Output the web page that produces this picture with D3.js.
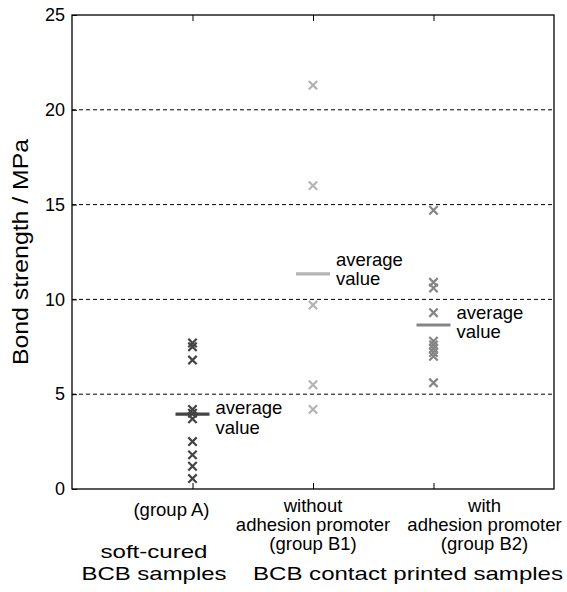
<!DOCTYPE html>
<html><head><meta charset="utf-8">
<script src="https://cdn.jsdelivr.net/npm/d3@7"></script>
<style>body{margin:0;background:#fff}svg{display:block}text{font-family:"Liberation Sans",Arial,sans-serif;fill:#000}</style>
</head><body><div id="chart"></div>
<script>
const groups = ["A", "B1", "B2"];
const groupA = [7.7, 7.5, 6.8, 4.2, 4.0, 3.7, 2.5, 1.8, 1.2, 0.55];
const groupB1 = [21.3, 16.0, 9.7, 5.5, 4.2];
const groupB2 = [14.7, 10.9, 10.6, 9.3, 7.8, 7.6, 7.4, 7.2, 7.0, 5.6];
const averages = [3.95, 11.35, 8.65];
const colors = ["#444444", "#b4b4b4", "#858585"];
const yTicks = [0, 5, 10, 15, 20, 25];
const tickLabels = [["(group A)"], ["without", "adhesion promoter", "(group B1)"], ["with", "adhesion promoter", "(group B2)"]];

const W = 567, H = 592;
const m = {l: 72, r: 13, t: 15, b: 103};
const svg = d3.select("#chart").append("svg").attr("width", W).attr("height", H);
const x = d3.scaleLinear().domain([0, 4]).range([m.l, W - m.r]);
const y = d3.scaleLinear().domain([0, 25]).range([H - m.b, m.t]);
const series = [groupA, groupB1, groupB2];

// gridlines
svg.append("g").selectAll("line").data(yTicks.filter(d => d > 0 && d < 25)).join("line")
  .attr("x1", x(0)).attr("x2", x(4)).attr("y1", d => y(d)).attr("y2", d => y(d))
  .attr("stroke", "#000").attr("stroke-width", 1).attr("stroke-dasharray", "4,3");

// box
svg.append("rect").attr("x", x(0)).attr("y", y(25)).attr("width", x(4) - x(0)).attr("height", y(0) - y(25))
  .attr("fill", "none").attr("stroke", "#000").attr("stroke-width", 1.3);

// y axis
const yAxis = svg.append("g").attr("transform", `translate(${x(0)},0)`)
  .call(d3.axisLeft(y).tickValues(yTicks).tickSize(-5).tickPadding(7).tickFormat(d3.format("d")));
yAxis.select(".domain").remove();
yAxis.selectAll("text").attr("font-size", 18).style("font-family", "Liberation Sans, Arial");
yAxis.selectAll("line").attr("stroke", "#000");

// x axis ticks (bottom and top)
const xAxis = svg.append("g").attr("transform", `translate(0,${y(0)})`)
  .call(d3.axisBottom(x).tickValues([1, 2, 3]).tickSize(-6).tickFormat(""));
xAxis.select(".domain").remove();
const xTop = svg.append("g").attr("transform", `translate(0,${y(25)})`)
  .call(d3.axisTop(x).tickValues([1, 2, 3]).tickSize(-6).tickFormat(""));
xTop.select(".domain").remove();

// tick labels (label blocks are offset from ticks as in the original)
const labelShift = [-21, 0, 51];
const lineOffsets = [[27], [23, 42, 61], [23, 42, 61]];
tickLabels.forEach((lines, i) => {
  lines.forEach((t, j) => {
    svg.append("text").attr("x", x(i + 1) + labelShift[i]).attr("y", y(0) + lineOffsets[i][j])
      .attr("text-anchor", "middle").attr("font-size", 18.5).text(t);
  });
});

// points
const hs = 4.2;
series.forEach((vals, i) => {
  const g = svg.append("g").attr("stroke", colors[i]).attr("stroke-width", 2.2);
  g.selectAll("path").data(vals).join("path")
    .attr("d", v => `M${x(i + 1) - hs},${y(v) - hs}L${x(i + 1) + hs},${y(v) + hs}M${x(i + 1) - hs},${y(v) + hs}L${x(i + 1) + hs},${y(v) - hs}`);
});

// average lines
svg.append("g").selectAll("line").data(averages).join("line")
  .attr("x1", (d, i) => x(i + 1) - 17).attr("x2", (d, i) => x(i + 1) + 17)
  .attr("y1", d => y(d)).attr("y2", d => y(d))
  .attr("stroke", (d, i) => colors[i]).attr("stroke-width", 3.2);

// average labels
const labelDy = [0, -8, -6];
averages.forEach((a, i) => {
  const t = svg.append("text").attr("x", x(i + 1) + 23).attr("y", y(a) + labelDy[i]).attr("font-size", 18.5);
  t.append("tspan").attr("x", x(i + 1) + 23).attr("dy", 0).text("average");
  t.append("tspan").attr("x", x(i + 1) + 23).attr("dy", 19.5).text("value");
});

// y title
svg.append("text").attr("transform", `translate(28,${(y(0) + y(25)) / 2}) rotate(-90)`)
  .attr("text-anchor", "middle").attr("font-size", 21.5)
  .attr("textLength", 226).attr("lengthAdjust", "spacingAndGlyphs").text("Bond strength / MPa");

// group titles
svg.append("text").attr("x", 154).attr("y", 558).attr("text-anchor", "middle").attr("font-size", 19)
  .attr("textLength", 107).attr("lengthAdjust", "spacingAndGlyphs").text("soft-cured");
svg.append("text").attr("x", 154).attr("y", 580).attr("text-anchor", "middle").attr("font-size", 19)
  .attr("textLength", 145).attr("lengthAdjust", "spacingAndGlyphs").text("BCB samples");
svg.append("text").attr("x", 408).attr("y", 580).attr("text-anchor", "middle").attr("font-size", 19)
  .attr("textLength", 310).attr("lengthAdjust", "spacingAndGlyphs").text("BCB contact printed samples");
</script></body></html>
